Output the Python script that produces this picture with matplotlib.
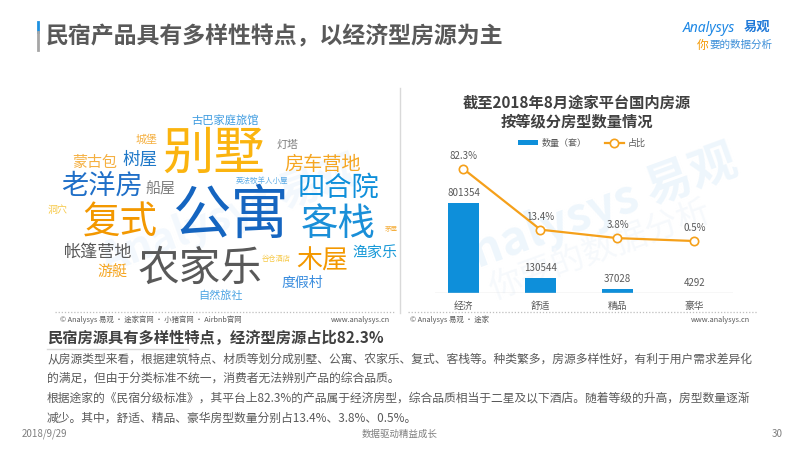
import matplotlib
matplotlib.use("Agg")
import matplotlib.pyplot as plt
from matplotlib.lines import Line2D

plt.rcParams['font.family'] = ['Noto Sans CJK SC', 'DejaVu Sans']

# ---------------- data ----------------
categories = ['经济', '舒适', '精品', '豪华']
counts = [801354, 130544, 37028, 4292]
shares = [82.3, 13.4, 3.8, 0.5]
share_labels = ['82.3%', '13.4%', '3.8%', '0.5%']

cloud_words = ['古巴家庭旅馆', '城堡', '别墅', '灯塔', '树屋', '蒙古包', '房车营地', '老洋房',
               '船屋', '英法牧羊人小屋', '四合院', '洞穴', '公寓', '复式', '客栈', '茅屋',
               '帐篷营地', '农家乐', '木屋', '渔家乐', '谷仓酒店', '游艇', '度假村', '自然旅社']

title = '民宿产品具有多样性特点，以经济型房源为主'
chart_title = '截至2018年8月途家平台国内房源\n按等级分房型数量情况'
legend_labels = ['数量（套）', '占比']
subtitle = '民宿房源具有多样性特点，经济型房源占比82.3%'
body_lines = [
    '从房源类型来看，根据建筑特点、材质等划分成别墅、公寓、农家乐、复式、客栈等。种类繁多，房源多样性好，有利于用户需求差异化',
    '的满足，但由于分类标准不统一，消费者无法辨别产品的综合品质。',
    '根据途家的《民宿分级标准》，其平台上82.3%的产品属于经济房型，综合品质相当于二星及以下酒店。随着等级的升高，房型数量逐渐',
    '减少。其中，舒适、精品、豪华房型数量分别占13.4%、3.8%、0.5%。',
]
source_left = '© Analysys 易观 · 途家官网 · 小猪官网 · Airbnb官网'
source_right = '© Analysys 易观 · 途家'
site = 'www.analysys.cn'
footer_date = '2018/9/29'
footer_mid = '数据驱动精益成长'
footer_page = '30'

# ---------------- layout / styles ----------------
W, H = 800, 450
fig = plt.figure(figsize=(8, 4.5), dpi=100)
fig.patch.set_facecolor('white')

def fx(x):
    return x / W

def fy(y):
    return 1 - y / H

GRAY = '#595959'
DARK = '#404040'
BLUE = '#0E8FDA'
ORANGE = '#F5A01A'

# word cloud layout: (x, y, size_pt, color)
cloud_layout = [
    (225, 121, 8.1, '#3D9BE0'),
    (147, 140, 7.9, '#F5B041'),
    (214, 154, 37, '#FBB40F'),
    (287, 145, 7.9, '#7F7F7F'),
    (140, 159, 12.6, '#1F78C8'),
    (95, 163, 10.8, '#F5B041'),
    (323, 164, 13.8, '#F5A623'),
    (102, 186, 19.6, '#1F6FC8'),
    (160, 189, 10.8, '#7F7F7F'),
    (262, 181, 5.4, '#5AAAE6'),
    (338, 188, 19.6, '#0E8FDA'),
    (58, 210, 7.2, '#F7C948'),
    (230, 216, 42, '#1565C0'),
    (120, 223, 27, '#F39800'),
    (338, 224, 27, '#1A8FD8'),
    (391, 229, 4.7, '#F5B041'),
    (97, 252, 12.3, '#595959'),
    (200, 269, 30, '#595959'),
    (322, 261, 18.7, '#F39800'),
    (375, 253, 10.8, '#1A9AD8'),
    (276, 259, 5.2, '#F7C948'),
    (112, 273, 10.8, '#F5A623'),
    (302, 283, 10, '#3A8DDE'),
    (220, 295, 8, '#4BA3E3'),
]

# ---------------- header ----------------
fig.add_artist(Line2D([fx(38), fx(38)], [fy(22), fy(32)], color='#1E90E0', lw=2))
fig.add_artist(Line2D([fx(38), fx(38)], [fy(32), fy(50)], color='#A6A6A6', lw=2))
fig.text(fx(46), fy(37), title, fontsize=16.5, fontweight='bold', color=GRAY,
         ha='left', va='center')

# logo
fig.text(fx(683), fy(28), 'Analysys', fontsize=10, color='#1E88E5', style='italic',
         ha='left', va='center', family=['Noto Sans', 'DejaVu Sans'])
fig.text(fx(744), fy(27), '易观', fontsize=9.5, fontweight='bold', color='#1E78D8',
         ha='left', va='center')
fig.text(fx(697), fy(45), '你', fontsize=8.4, color='#F39800', ha='left', va='center')
fig.text(fx(709), fy(45), '要的数据分析', fontsize=7.6, color='#3D8FD8', ha='left', va='center')

# ---------------- watermarks (behind everything) ----------------
fig.text(fx(590), fy(212), 'Analysys 易观', fontsize=34, color='#EEF6FC', rotation=20,
         ha='center', va='center', zorder=-10, fontweight='bold')
fig.text(fx(600), fy(250), '你要的数据分析', fontsize=24, color='#F6F9FC', rotation=20,
         ha='center', va='center', zorder=-10)
fig.text(fx(230), fy(215), 'Analysys 易观', fontsize=30, color='#F3F8FD', rotation=20,
         ha='center', va='center', zorder=-10, fontweight='bold')

# ---------------- word cloud ----------------
for word, (x, y, s, c) in zip(cloud_words, cloud_layout):
    fig.text(fx(x), fy(y), word, fontsize=s, color=c, ha='center', va='center', zorder=2)

# divider and dotted lines
fig.add_artist(Line2D([fx(400), fx(400)], [fy(88), fy(313)], color='#D9D9D9', lw=1))
fig.add_artist(Line2D([fx(55), fx(395)], [fy(312), fy(312)], color='#BFBFBF', lw=0.9, ls=(0, (1, 1.5))))
fig.add_artist(Line2D([fx(408), fx(757)], [fy(312), fy(312)], color='#BFBFBF', lw=0.9, ls=(0, (1, 1.5))))

fig.text(fx(60), fy(320), source_left, fontsize=5.3, color=GRAY, ha='left', va='center')
fig.text(fx(390), fy(320), site, fontsize=5.3, color=GRAY, ha='right', va='center')
fig.text(fx(410), fy(320), source_right, fontsize=5.3, color=GRAY, ha='left', va='center')
fig.text(fx(750), fy(320), site, fontsize=5.3, color=GRAY, ha='right', va='center')

# ---------------- chart ----------------
fig.text(fx(577), fy(112), chart_title, fontsize=11, fontweight='bold', color=DARK,
         ha='center', va='center', linespacing=1.25)

ax = fig.add_axes([fx(435), fy(293), 298 / W, 133 / H])
ax.set_facecolor('none')
x = list(range(len(categories)))
bars = ax.bar(x, counts, width=0.40, color=BLUE, zorder=2)
ax.set_xlim(-0.37, 3.5)
ax.set_ylim(0, 801354 * 133 / 90)
for i, v in enumerate(counts):
    ax.annotate(str(v), (i, v), xytext=(0, 7.2), textcoords='offset points',
                ha='center', va='center', fontsize=7, color=GRAY)
ax.axhline(0, color='#D9D9D9', lw=1, zorder=3)
ax.set_xticks(x)
ax.set_xticklabels(categories, fontsize=7, color=GRAY)
ax.tick_params(axis='x', length=0, pad=6)
ax.set_yticks([])
for sp in ax.spines.values():
    sp.set_visible(False)

ax2 = ax.twinx()
line, = ax2.plot(x, shares, color=ORANGE, lw=1.6, marker='o', markersize=6,
                 markerfacecolor='white', markeredgecolor=ORANGE, markeredgewidth=1.2, zorder=4)
ax2.set_ylim(-58.5, 92.5)
for i, (v, lab) in enumerate(zip(shares, share_labels)):
    ax2.annotate(lab, (i, v), xytext=(0, 9.4), textcoords='offset points',
                 ha='center', va='center', fontsize=7, color=GRAY)
ax2.set_yticks([])
for sp in ax2.spines.values():
    sp.set_visible(False)

fig.legend([bars, line], legend_labels, loc='center', bbox_to_anchor=(fx(582), fy(143)),
           ncol=2, frameon=False, fontsize=6.5, handlelength=2.2, handleheight=0.55,
           columnspacing=2.0, handletextpad=0.4, labelcolor=GRAY)

# ---------------- text section ----------------
fig.text(fx(47), fy(338), subtitle, fontsize=11, fontweight='bold', color=DARK,
         ha='left', va='center')
fig.add_artist(Line2D([fx(47), fx(188)], [fy(349), fy(349)], color='#D9D9D9', lw=1))
for k, ln in enumerate(body_lines):
    fig.text(fx(47), fy(359 + k * 19.6), ln, fontsize=8.5, color=GRAY, ha='left', va='center')

fig.text(fx(22), fy(434), footer_date, fontsize=7, color='#7F7F7F', ha='left', va='center')
fig.text(fx(400), fy(434), footer_mid, fontsize=6.8, color='#7F7F7F', ha='center', va='center')
fig.text(fx(783), fy(434), footer_page, fontsize=7, color='#7F7F7F', ha='right', va='center')

fig.savefig('out.png', dpi=100, facecolor='white')
